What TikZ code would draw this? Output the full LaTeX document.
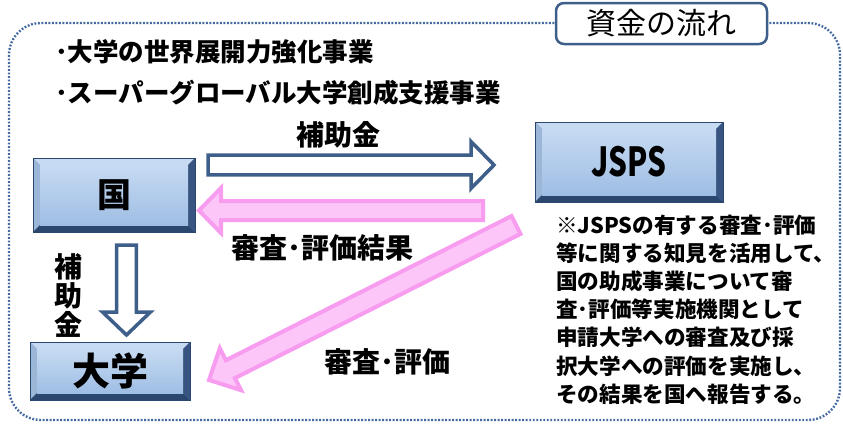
\documentclass[tikz,border=0pt]{standalone}
\usepackage{fontspec}
\setmainfont{Noto Sans CJK JP}
\newfontfamily\jspsfont{Noto Sans CJK JP}[FakeStretch=0.74]
\usetikzlibrary{calc}

\definecolor{edgeblue}{HTML}{3D5F8A}
\definecolor{dotblue}{HTML}{4468A0}
\definecolor{pinkfill}{HTML}{FCC6F9}
\definecolor{pinkline}{HTML}{F79CEF}
\definecolor{boxlight}{HTML}{C6DAF2}
\definecolor{boxfill}{HTML}{9FBEE4}
\definecolor{boxdark}{HTML}{2B4770}
\definecolor{boxside}{HTML}{5C80B0}

% hollow block arrow: start, end, half shaft, half head, head length, style
\newcommand{\blockarrow}[6]{%
  \coordinate (#1-neck) at ($(#2)!#5!(#1)$);
  \draw[#6] ($(#1)!#3!90:(#2)$) -- ($(#1-neck)!#3!90:(#2)$)
    -- ($(#1-neck)!#4!90:(#2)$) -- (#2) -- ($(#1-neck)!#4!-90:(#2)$)
    -- ($(#1-neck)!#3!-90:(#2)$) -- ($(#1)!#3!-90:(#2)$) -- cycle;}

\tikzset{
  bevelbox/.style={draw=boxdark, line width=1pt, fill=boxside, inner sep=0pt,
    path picture={
      \fill[boxlight] (path picture bounding box.north west)
        -- (path picture bounding box.north east)
        -- ([shift={(-7,7)}]path picture bounding box.north east)
        -- ([shift={(7,7)}]path picture bounding box.north west) -- cycle;
      \fill[boxlight!60!boxside] (path picture bounding box.north west)
        -- ([shift={(7,7)}]path picture bounding box.north west)
        -- ([shift={(7,-7)}]path picture bounding box.south west)
        -- (path picture bounding box.south west) -- cycle;
      \fill[boxdark] (path picture bounding box.south west)
        -- (path picture bounding box.south east)
        -- ([shift={(-7,-7)}]path picture bounding box.south east)
        -- ([shift={(7,-7)}]path picture bounding box.south west) -- cycle;
      \fill[boxdark!75!boxside] (path picture bounding box.north east)
        -- (path picture bounding box.south east)
        -- ([shift={(-7,-7)}]path picture bounding box.south east)
        -- ([shift={(-7,7)}]path picture bounding box.north east) -- cycle;
      \fill[top color=boxlight, bottom color=boxfill]
        ([shift={(7,7)}]path picture bounding box.north west)
        rectangle ([shift={(-7,-7)}]path picture bounding box.south east);
    }},
  blockblue/.style={draw=edgeblue, line width=3.5pt, fill=white},
  blockpink/.style={draw=pinkline, line width=4pt, fill=pinkfill},
  flowlabel/.style={inner sep=0pt, font=\fontsize{28}{29}\selectfont\bfseries}
}

\begin{document}
\begin{tikzpicture}[x=1pt,y=-1pt]
  \useasboundingbox (0,0) rectangle (843,423);
  % dotted frame and title
  \draw[dotblue, line width=2.4pt, dash pattern=on 1.8pt off 1.7pt,
    rounded corners=32pt] (9,23) rectangle (840,420);
  \node[draw=edgeblue, line width=2.5pt, fill=white, rounded corners=8pt,
    minimum width=211, minimum height=41] (title) at (661.5,23.5)
    {\fontsize{30}{30}\selectfont 資金の流れ};
  % programmes
  \node[anchor=west, align=left, inner sep=0pt,
    font=\fontsize{25.5}{41}\selectfont\bfseries] (programs) at (55,72.5)
    {･大学の世界展開力強化事業\\･スーパーグローバル大学創成支援事業};
  % boxes
  \node[bevelbox, minimum width=162, minimum height=74] (kuni) at (114,195)
    {\fontsize{34}{34}\selectfont\bfseries 国};
  \node[bevelbox, minimum width=188, minimum height=80] (jsps) at (629,162)
    {\jspsfont\fontsize{40}{40}\selectfont\bfseries JSPS};
  \node[bevelbox, minimum width=160, minimum height=58] (daigaku) at (110,371)
    {\fontsize{38}{38}\selectfont\bfseries 大学};
  % arrow ends
  \coordinate (fund-s) at (208,165);
  \coordinate (fund-e) at (494,165);
  \coordinate (result-s) at (483,210.5);
  \coordinate (result-e) at (199,210.5);
  \coordinate (sub-s) at (126.5,245);
  \coordinate (sub-e) at (126.5,335);
  \coordinate (review-s) at (516,225);
  \coordinate (review-e) at (209,380);
  % arrows
  \blockarrow{fund-s}{fund-e}{9.8pt}{23.5pt}{23pt}{blockblue}
  \blockarrow{result-s}{result-e}{9.5pt}{22.5pt}{22pt}{blockpink}
  \blockarrow{sub-s}{sub-e}{9.8pt}{24pt}{23pt}{blockblue}
  \blockarrow{review-s}{review-e}{10pt}{23.5pt}{24pt}{blockpink}
  % labels
  \node[flowlabel] (fundtext) at (338,135) {補助金};
  \node[flowlabel] (resulttext) at (322,248) {審査･評価結果};
  \node[flowlabel] (reviewtext) at (387,362) {審査･評価};
  \node[flowlabel, align=center] (subtext) at (68,296) {補\\助\\金};
  % note
  \node[anchor=north west, align=left, inner sep=0pt,
    font=\fontsize{21.6}{28.2}\selectfont\bfseries] (note) at (556,214.5)
    {※JSPSの有する審査･評価\\等に関する知見を活用して、\\国の助成事業について審\\
     査･評価等実施機関として\\申請大学への審査及び採\\択大学への評価を実施し、\\
     その結果を国へ報告する。};
\end{tikzpicture}
\end{document}
